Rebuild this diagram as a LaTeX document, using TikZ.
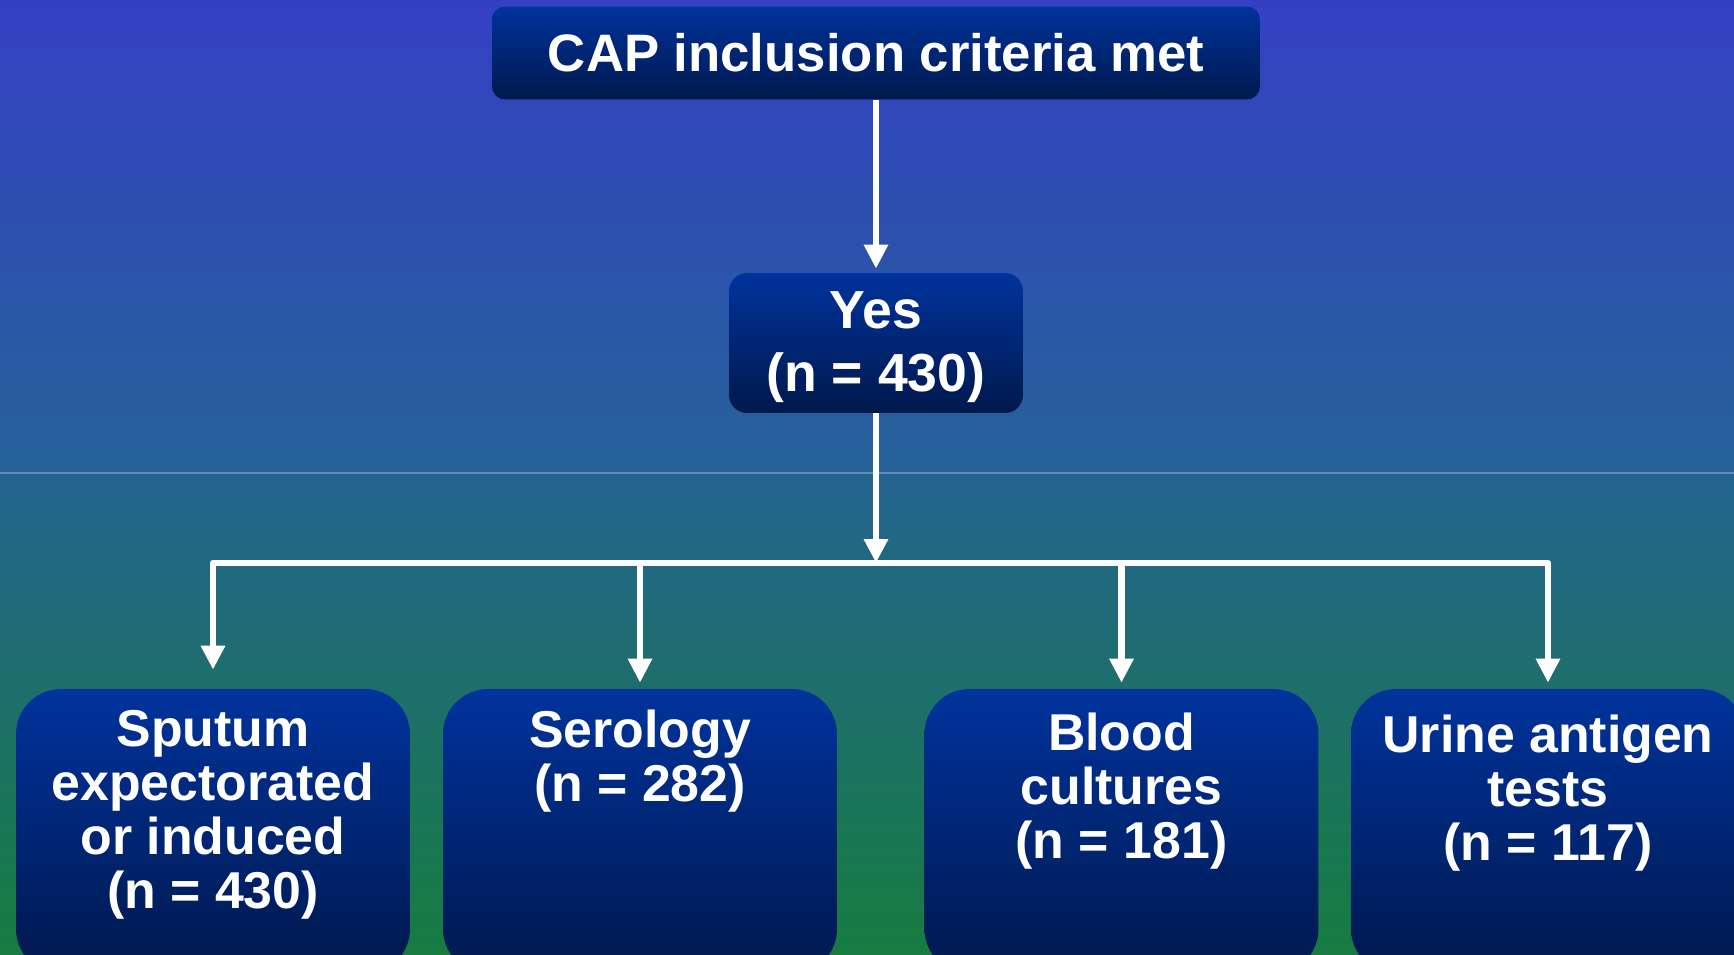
\documentclass[tikz,border=0pt]{standalone}
\usepackage{fontspec}
\setmainfont{Liberation Sans}
\usetikzlibrary{arrows.meta,positioning,shadings}

\definecolor{bgtop}{RGB}{52,64,196}
\definecolor{bgmid}{RGB}{37,98,152}
\definecolor{bglow}{RGB}{36,100,143}
\definecolor{bgbot}{RGB}{22,124,64}
\definecolor{seam}{RGB}{95,140,190}
\definecolor{boxtop}{RGB}{0,51,156}
\definecolor{boxbot}{RGB}{0,24,76}

\tikzset{
  flowbox/.style={draw=none, top color=boxtop, bottom color=boxbot, inner sep=0pt,
    text=white, align=center},
  boxtext/.style={text=white, align=center, inner sep=0pt,
    font=\bfseries\fontsize{29.5}{30.7}\selectfont},
  flowarrow/.style={draw=white, line width=0.13cm, line join=round,
    -{Triangle[width=0.46cm,length=0.48cm]}}
}

\begin{document}
\begin{tikzpicture}[x=0.02cm,y=-0.02cm]
  \useasboundingbox (0,0) rectangle (1734,954);
  \clip (0,0) rectangle (1734,954);
  % background
  \fill[top color=bgtop, bottom color=bgmid] (0,0) rectangle (1734,473);
  \fill[top color=bglow, bottom color=bgbot] (0,473) rectangle (1734,954);
  \draw[seam, line width=0.03cm] (0,473) -- (1734,473);

  % boxes
  \node[flowbox, minimum width=15.36cm, minimum height=1.86cm, rounded corners=0.26cm,
    font=\bfseries\fontsize{30}{35}\selectfont] (crit) at (876,53) {CAP inclusion criteria met};
  \node[flowbox, minimum width=5.88cm, minimum height=2.8cm, rounded corners=0.36cm] (yes) at (876,343) {};
  \node[boxtext, font=\bfseries\fontsize{30.5}{35.5}\selectfont] (yestext)
    at ([yshift=-0.08cm]yes.center) {Yes\\(n = 430)};

  \node[flowbox, minimum width=7.88cm, minimum height=5.7cm, rounded corners=0.9cm] (sput) at (213,831.5) {};
  \node[flowbox, minimum width=7.88cm, minimum height=5.7cm, rounded corners=0.9cm] (sero) at (640,831.5) {};
  \node[flowbox, minimum width=7.88cm, minimum height=5.7cm, rounded corners=0.9cm] (blood) at (1121.5,831.5) {};
  \node[flowbox, minimum width=7.88cm, minimum height=5.7cm, rounded corners=0.9cm] (urine) at (1548,831.5) {};

  \node[boxtext, below=0.42cm of sput.north] (sputtext) {Sputum\\expectorated\\or induced\\(n = 430)};
  \node[boxtext, below=0.42cm of sero.north] (serotext) {Serology\\(n = 282)};
  \node[boxtext, below=0.48cm of blood.north] (bloodtext) {Blood\\cultures\\(n = 181)};
  \node[boxtext, below=0.52cm of urine.north] (urinetext) {Urine antigen\\tests\\(n = 117)};

  % connectors
  \coordinate (bus) at (876,563);
  \draw[flowarrow, shorten >=0.08cm] (crit.south) -- (yes.north);
  \draw[flowarrow] (yes.south) -- (bus);
  \draw[flowarrow, shorten >=0.38cm] (bus) -| (sput.north);
  \draw[flowarrow, shorten >=0.12cm] (bus) -| (urine.north);
  \draw[flowarrow, shorten >=0.12cm] (sero.north |- bus) -- (sero.north);
  \draw[flowarrow, shorten >=0.12cm] (blood.north |- bus) -- (blood.north);
\end{tikzpicture}
\end{document}
